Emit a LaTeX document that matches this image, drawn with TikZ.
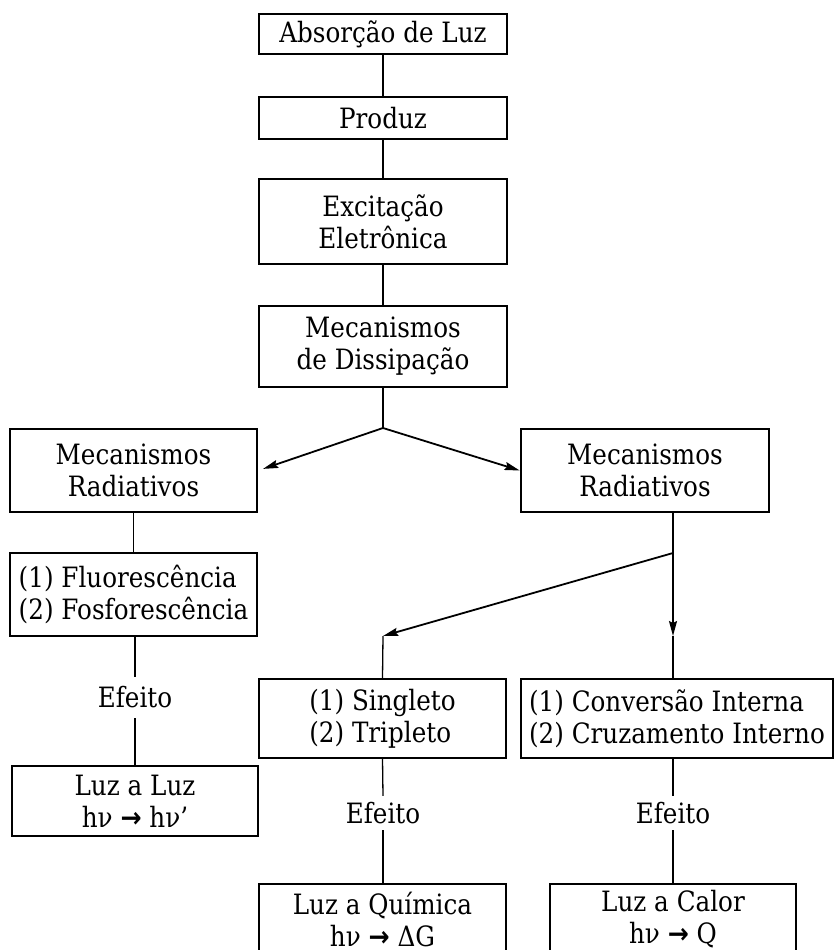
\documentclass[tikz,border=0pt]{standalone}
\usepackage{fontspec}
\setmainfont{DejaVu Serif}[FakeStretch=0.88]
\newfontfamily\arrowfont{DejaVu Sans}[FakeStretch=0.9]
\usetikzlibrary{arrows.meta}

% heavy rightwards arrow used in the energy labels
\newcommand{\toarrow}{{\arrowfont\bfseries →}}

\tikzset{
  box/.style={draw, line width=2pt, rectangle, inner sep=0pt, align=center,
              font=\fontsize{28}{32}\selectfont},
  boxthick/.style={box, line width=2.6pt},
  lbl/.style={inner sep=0pt, font=\fontsize{28}{32}\selectfont},
  link/.style={line width=1.3pt},
  flow/.style={line width=1.8pt, -{Stealth[length=15pt,width=8pt,inset=2pt]}},
}

\begin{document}
\begin{tikzpicture}[x=1pt,y=-1pt]
\useasboundingbox (0,0) rectangle (835,950);
\begin{scope}
\clip (0,0) rectangle (835,950);

% main column
\node[box, minimum width=248, minimum height=40] (b1) at (383,34) {Absorção de Luz};
\node[box, minimum width=248, minimum height=42] (b2) at (383,118) {Produz};
\node[boxthick, minimum width=248, minimum height=85] (b3) at (383,221.5) {Excitação\\Eletrônica};
\node[boxthick, minimum width=248, minimum height=81] (b4) at (383,346.5) {Mecanismos\\de Dissipação};

% two branches
\node[boxthick, minimum width=247, minimum height=83] (L1) at (133.5,470.5) {Mecanismos\\Radiativos};
\node[boxthick, minimum width=248, minimum height=83] (R1) at (645,470.5) {Mecanismos\\Radiativos};

% left branch
\node[box, minimum width=247, minimum height=83, align=left] (F) at (133.5,594.5) {(1) Fluorescência\\(2) Fosforescência};
\node[lbl, minimum height=41] (eL) at (135,697.5) {Efeito};
\node[box, minimum width=246, minimum height=70] (LL) at (135,801) {Luz a Luz\\hν \toarrow{} hν’};

% middle branch
\node[box, minimum width=247, minimum height=79, align=left] (S) at (382.5,718.5) {(1) Singleto\\(2) Tripleto};
\node[lbl, minimum height=34] (eM) at (383,813) {Efeito};
\node[box, minimum width=247, minimum height=70] (Q) at (382.5,919) {Luz a Química\\hν \toarrow{} ΔG};

% right branch
\node[box, minimum width=312, minimum height=79, align=left] (C) at (677,718.5) {(1) Conversão Interna\\(2) Cruzamento Interno};
\node[lbl, minimum height=34] (eR) at (673,813) {Efeito};
\node[box, minimum width=246, minimum height=70] (K) at (673,919) {Luz a Calor\\hν \toarrow{} Q};

% junctions
\coordinate (j1) at (383,428);
\coordinate (j2) at (673,553);
\coordinate (a1) at (383,636);
\coordinate (a2) at (673,636);

% connectors
\draw[link] (b1) -- (b2);
\draw[link] (b2) -- (b3);
\draw[link] (b3) -- (b4);
\draw[link] (b4.south) -- (j1);
\draw[flow, shorten >=5pt] (j1) -- (L1.east);
\draw[flow] (j1) -- (R1.west);

\draw[link] (L1.south -| F.north) -- (F.north);
\draw[link] (F.south -| eL.north) -- (eL.north);
\draw[link] (eL.south) -- (eL.south |- LL.north);

\draw[link] (j2 |- R1.south) -- (j2);
\draw[flow] (j2) -- (a1);
\draw[flow] (j2) -- (a2);
\draw[link] (a1) -- (S.north);
\draw[link] (a2) -- (a2 |- C.north);

\draw[link] (S.south) -- (eM.north);
\draw[link] (eM.south) -- (eM.south |- Q.north);
\draw[link] (eR.north |- C.south) -- (eR.north);
\draw[link] (eR.south) -- (K.north);
\end{scope}
\end{tikzpicture}
\end{document}
